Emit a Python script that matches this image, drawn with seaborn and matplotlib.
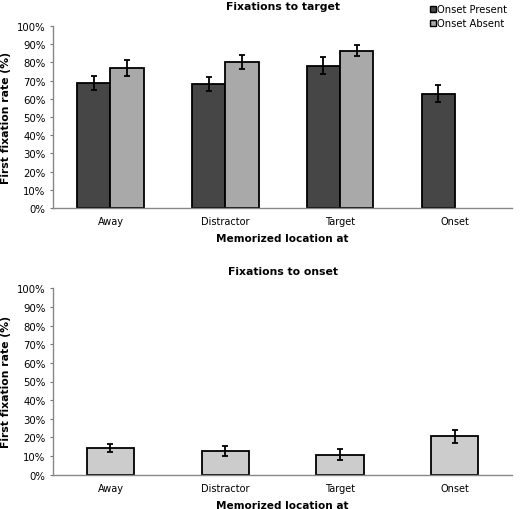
import numpy as np
import pandas as pd
import matplotlib
matplotlib.use('Agg')
import matplotlib.pyplot as plt
import seaborn as sns
from matplotlib.ticker import FuncFormatter, FixedLocator
from matplotlib.lines import Line2D

categories = ['Away', 'Distractor', 'Target', 'Onset']
groups = ['Onset Present', 'Onset Absent']

# fixations to target (%)
target_present = [68.6, 68.1, 78.3, 62.8]
target_present_err = [3.9, 4.0, 4.5, 4.6]
target_absent = [76.7, 80.2, 86.4, np.nan]
target_absent_err = [4.4, 4.0, 3.1, np.nan]

# fixations to onset (%)
onset_vals = [14.5, 12.8, 10.7, 20.6]
onset_err = [2.1, 2.7, 3.0, 3.5]

sns.set_style('white')
plt.rcParams['font.family'] = ['DejaVu Sans']
plt.rcParams['text.color'] = 'black'
plt.rcParams['axes.labelcolor'] = 'black'
plt.rcParams['xtick.color'] = 'black'
plt.rcParams['ytick.color'] = 'black'

fig = plt.figure(figsize=(5.2, 5.1), dpi=100)
ax1 = fig.add_axes([0.102, 0.590, 0.883, 0.357])
ax2 = fig.add_axes([0.102, 0.067, 0.883, 0.366])

df1 = pd.DataFrame({
    'loc': categories * 2,
    'group': [groups[0]] * 4 + [groups[1]] * 4,
    'rate': target_present + target_absent,
    'err': target_present_err + target_absent_err,
}).dropna()

sns.barplot(data=df1, x='loc', y='rate', hue='group', order=categories,
            hue_order=groups, palette=['#464646', '#a9a9a9'], width=0.58,
            edgecolor='black', linewidth=1.3, errorbar=None, legend=False, ax=ax1)

for cont, g in zip(ax1.containers, groups):
    sub = df1[df1['group'] == g]
    xs = [p.get_x() + p.get_width() / 2 for p in cont.patches]
    ax1.errorbar(xs, sub['rate'], yerr=sub['err'], fmt='none', ecolor='black',
                 elinewidth=1.3, capsize=2.2, capthick=1.3)

df2 = pd.DataFrame({'loc': categories, 'rate': onset_vals, 'err': onset_err})
sns.barplot(data=df2, x='loc', y='rate', order=categories, color='#cccccc',
            width=0.41, edgecolor='black', linewidth=1.3, errorbar=None,
            saturation=1, ax=ax2)
xs = [p.get_x() + p.get_width() / 2 for p in ax2.patches]
ax2.errorbar(xs, df2['rate'], yerr=df2['err'], fmt='none', ecolor='black',
             elinewidth=1.3, capsize=2.2, capthick=1.3)

for ax, title, tpad in [(ax1, 'Fixations to target', 12), (ax2, 'Fixations to onset', 10)]:
    ax.set_xlim(-0.5, 3.5)
    ax.set_ylim(0, 100)
    ax.set_yticks(range(0, 101, 10))
    ax.yaxis.set_major_formatter(FuncFormatter(lambda v, p: f'{int(v)}%'))
    ax.xaxis.set_minor_locator(FixedLocator([0.5, 1.5, 2.5, 3.5]))
    ax.tick_params(axis='x', which='major', length=0, labelsize=7, pad=6)
    ax.tick_params(axis='x', which='minor', length=4, direction='inout', color='#777777')
    ax.tick_params(axis='y', length=2.5, direction='out', color='#777777', labelsize=7.3,
                   pad=3, left=True)
    for s in ['top', 'right']:
        ax.spines[s].set_visible(False)
    for s in ['left', 'bottom']:
        ax.spines[s].set_color('#888888')
        ax.spines[s].set_linewidth(1.0)
    ax.set_title(title, fontsize=7.8, fontweight='bold', pad=tpad)
    ax.set_xlabel('Memorized location at', fontsize=7.6, fontweight='bold', labelpad=5)
    ax.set_ylabel('First fixation rate (%)', fontsize=7.8, fontweight='bold', labelpad=4)

handles = [Line2D([], [], marker='s', linestyle='none', markersize=5,
                  markerfacecolor=c, markeredgecolor='black', markeredgewidth=1.0)
           for c in ['#464646', '#a9a9a9']]
fig.legend(handles, groups, loc='upper right', bbox_to_anchor=(0.985, 1.0),
           frameon=False, fontsize=7.2, handlelength=0.5, handletextpad=0.2,
           labelspacing=0.4, borderaxespad=0.1)

fig.savefig('out.png', dpi=100)
